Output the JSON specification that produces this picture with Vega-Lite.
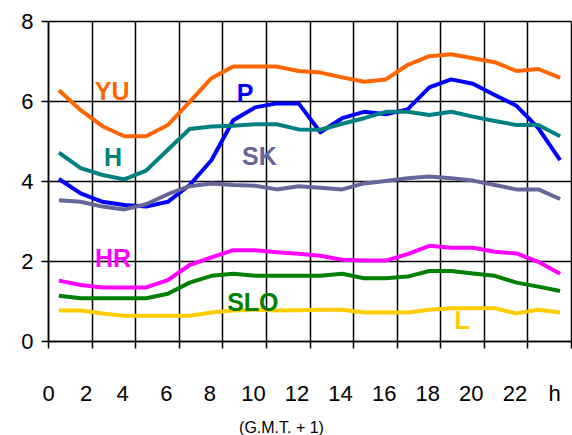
{
  "$schema": "https://vega.github.io/schema/vega-lite/v6.json",
  "width": 523,
  "height": 320,
  "autosize": "none",
  "padding": {"left": 48, "top": 21, "right": 1, "bottom": 94},
  "background": "white",
  "config": {
    "view": {"stroke": null},
    "font": "Liberation Sans",
    "axis": {
      "domainColor": "black",
      "domainWidth": 1.5,
      "gridColor": "black",
      "gridWidth": 1.5,
      "gridOpacity": 1,
      "tickColor": "black",
      "tickWidth": 1.5,
      "tickSize": 7,
      "labelColor": "black",
      "labelFontSize": 22,
      "labelFont": "Liberation Sans",
      "labelFlush": false,
      "labelOverlap": false
    }
  },
  "datasets": {
    "series": [
      {"hour": 0.5, "YU": 6.27, "P": 4.05, "H": 4.71, "SK": 3.52, "HR": 1.51, "SLO": 1.13, "L": 0.76},
      {"hour": 1.5, "YU": 5.77, "P": 3.69, "H": 4.32, "SK": 3.48, "HR": 1.40, "SLO": 1.07, "L": 0.76},
      {"hour": 2.5, "YU": 5.37, "P": 3.48, "H": 4.15, "SK": 3.36, "HR": 1.34, "SLO": 1.07, "L": 0.69},
      {"hour": 3.5, "YU": 5.12, "P": 3.40, "H": 4.04, "SK": 3.29, "HR": 1.34, "SLO": 1.07, "L": 0.63},
      {"hour": 4.5, "YU": 5.12, "P": 3.36, "H": 4.26, "SK": 3.42, "HR": 1.34, "SLO": 1.07, "L": 0.63},
      {"hour": 5.5, "YU": 5.40, "P": 3.48, "H": 4.78, "SK": 3.67, "HR": 1.52, "SLO": 1.18, "L": 0.63},
      {"hour": 6.5, "YU": 5.98, "P": 3.90, "H": 5.30, "SK": 3.87, "HR": 1.90, "SLO": 1.46, "L": 0.63},
      {"hour": 7.5, "YU": 6.57, "P": 4.52, "H": 5.36, "SK": 3.94, "HR": 2.09, "SLO": 1.63, "L": 0.71},
      {"hour": 8.5, "YU": 6.86, "P": 5.52, "H": 5.38, "SK": 3.90, "HR": 2.27, "SLO": 1.68, "L": 0.76},
      {"hour": 9.5, "YU": 6.86, "P": 5.84, "H": 5.42, "SK": 3.88, "HR": 2.27, "SLO": 1.63, "L": 0.78},
      {"hour": 10.5, "YU": 6.86, "P": 5.94, "H": 5.42, "SK": 3.79, "HR": 2.22, "SLO": 1.63, "L": 0.76},
      {"hour": 11.5, "YU": 6.75, "P": 5.94, "H": 5.29, "SK": 3.87, "HR": 2.18, "SLO": 1.63, "L": 0.77},
      {"hour": 12.5, "YU": 6.71, "P": 5.22, "H": 5.28, "SK": 3.83, "HR": 2.13, "SLO": 1.63, "L": 0.78},
      {"hour": 13.5, "YU": 6.59, "P": 5.57, "H": 5.43, "SK": 3.79, "HR": 2.03, "SLO": 1.68, "L": 0.78},
      {"hour": 14.5, "YU": 6.48, "P": 5.73, "H": 5.57, "SK": 3.94, "HR": 2.01, "SLO": 1.57, "L": 0.71},
      {"hour": 15.5, "YU": 6.54, "P": 5.67, "H": 5.73, "SK": 4.00, "HR": 2.01, "SLO": 1.57, "L": 0.71},
      {"hour": 16.5, "YU": 6.90, "P": 5.79, "H": 5.73, "SK": 4.07, "HR": 2.17, "SLO": 1.61, "L": 0.71},
      {"hour": 17.5, "YU": 7.12, "P": 6.34, "H": 5.65, "SK": 4.11, "HR": 2.38, "SLO": 1.75, "L": 0.78},
      {"hour": 18.5, "YU": 7.17, "P": 6.54, "H": 5.73, "SK": 4.07, "HR": 2.33, "SLO": 1.75, "L": 0.82},
      {"hour": 19.5, "YU": 7.07, "P": 6.43, "H": 5.61, "SK": 4.01, "HR": 2.33, "SLO": 1.69, "L": 0.82},
      {"hour": 20.5, "YU": 6.97, "P": 6.15, "H": 5.50, "SK": 3.90, "HR": 2.23, "SLO": 1.63, "L": 0.82},
      {"hour": 21.5, "YU": 6.75, "P": 5.88, "H": 5.40, "SK": 3.79, "HR": 2.19, "SLO": 1.46, "L": 0.69},
      {"hour": 22.5, "YU": 6.80, "P": 5.32, "H": 5.40, "SK": 3.79, "HR": 1.98, "SLO": 1.36, "L": 0.78},
      {"hour": 23.5, "YU": 6.58, "P": 4.52, "H": 5.12, "SK": 3.55, "HR": 1.68, "SLO": 1.25, "L": 0.71}
    ],
    "labels": [
      {"country": "YU", "hour": 2.94, "value": 6.22},
      {"country": "P", "hour": 9.04, "value": 6.17},
      {"country": "H", "hour": 2.98, "value": 4.57},
      {"country": "SK", "hour": 9.7, "value": 4.6},
      {"country": "HR", "hour": 2.98, "value": 2.05},
      {"country": "SLO", "hour": 9.4, "value": 0.95},
      {"country": "L", "hour": 19.0, "value": 0.5}
    ]
  },
  "encoding": {
    "x": {
      "field": "hour",
      "type": "quantitative",
      "scale": {"domain": [0, 24], "nice": false, "zero": false},
      "axis": {
        "values": [0, 2, 4, 6, 8, 10, 12, 14, 16, 18, 20, 22, 24],
        "grid": true,
        "labelExpr": "datum.value == 24 ? 'h' : datum.label",
        "labelPadding": 35,
        "labelOffset": {"expr": "datum.value == 0 ? 0 : datum.value == 2 ? -6 : datum.value == 24 ? -17 : -13"},
        "title": "(G.M.T. + 1)",
        "titleFontSize": 16,
        "titleFontWeight": "normal",
        "titleFont": "Liberation Sans",
        "titleColor": "black",
        "titleX": 233,
        "titleY": 91,
        "titleAlign": "center",
        "titleBaseline": "alphabetic"
      }
    },
    "y": {
      "field": "value",
      "type": "quantitative",
      "scale": {"domain": [0, 8], "nice": false},
      "axis": {
        "values": [0, 2, 4, 6, 8],
        "grid": true,
        "labelPadding": 8,
        "title": null
      }
    },
    "color": {
      "field": "country",
      "type": "nominal",
      "scale": {
        "domain": ["YU", "P", "H", "SK", "HR", "SLO", "L"],
        "range": ["#FF6600", "#0000FF", "#008080", "#666699", "#FF00FF", "#008000", "#FFCC00"]
      },
      "legend": null
    }
  },
  "layer": [
    {
      "data": {"name": "series"},
      "transform": [
        {"fold": ["YU", "P", "H", "SK", "HR", "SLO", "L"], "as": ["country", "value"]}
      ],
      "mark": {"type": "line", "strokeWidth": 4, "strokeJoin": "round"},
      "encoding": {"detail": {"field": "country"}}
    },
    {
      "data": {"name": "labels"},
      "mark": {"type": "text", "fontSize": 25, "fontWeight": "bold", "font": "Liberation Sans", "align": "center", "baseline": "middle"},
      "encoding": {"text": {"field": "country"}}
    }
  ]
}
